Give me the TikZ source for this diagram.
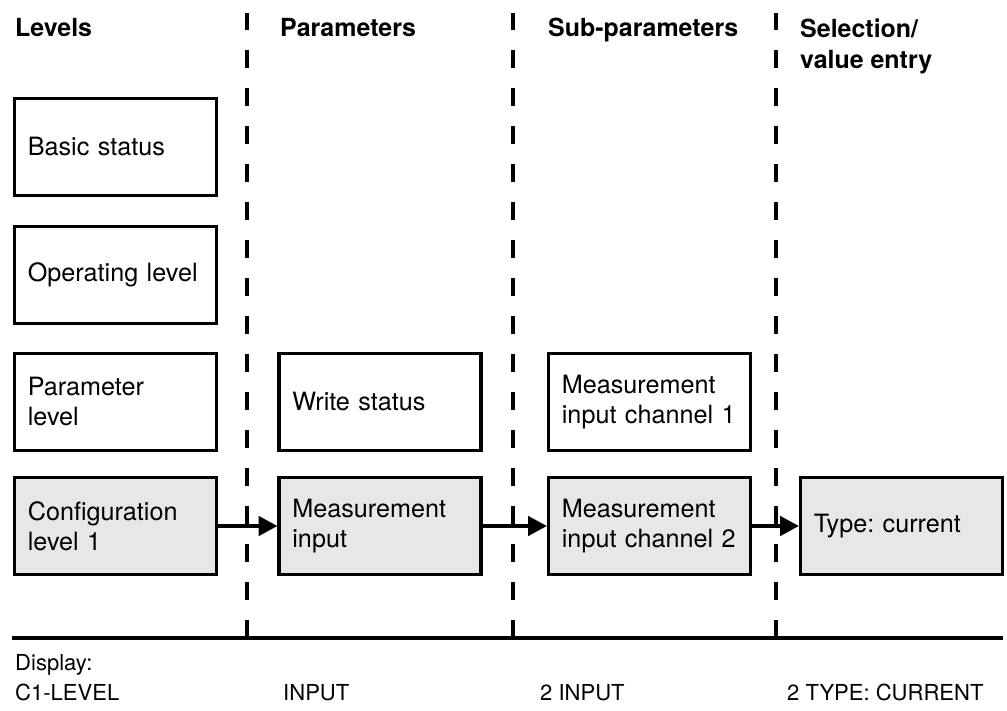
\documentclass[tikz,border=0pt]{standalone}
\usepackage{fontspec}
\setmainfont{TeX Gyre Heros}
\usepackage{tikz}
\usetikzlibrary{arrows.meta}
\definecolor{boxgray}{RGB}{230,231,232}
\frenchspacing
\tikzset{
	levelbox/.style={draw,rectangle,line width=2.8pt,minimum width=6.06cm,minimum height=2.9cm,
		inner xsep=0.4cm,text width=5.26cm,align=left,font=\fontsize{21.5}{25.6}\selectfont},
	activebox/.style={levelbox,fill=boxgray},
	divider/.style={line width=2.8pt,dash pattern=on 0.54cm off 0.6cm},
	stepto/.style={line width=2.8pt,-{Triangle[length=0.56cm,width=0.58cm]}},
	heading/.style={anchor=base west,inner sep=0pt,align=left,font=\bfseries\fontsize{21.3}{27.3}\selectfont},
	display/.style={anchor=base west,inner sep=0pt,align=left,font=\fontsize{18.8}{25.6}\selectfont}
}

\begin{document}
\begin{tikzpicture}[x=0.03cm,y=-0.03cm]
	\useasboundingbox (0,0) rectangle (1007,711);
	\foreach \x in {247,513,776}
		\draw[divider] (\x,638)--(\x,13);		%column dividers
	\draw[line width=2.8pt] (12,638)--(1003,638);
	
	\node[heading] (levels) at (15,37) {Levels};
	\node[heading] (params) at (280,37) {Parameters};
	\node[heading] (subparams) at (548,37) {Sub-parameters};
	\node[heading] (selection) at (800,69) {Selection/\\value entry};	%base = last line
	%
	\node[levelbox] (basic) at (115.5,147) {Basic status};
	\node[levelbox] (oper) at (115.5,275) {Operating level};
	\node[levelbox] (param) at (115.5,402) {Parameter\\level};
	\node[activebox] (config) at (115.5,526) {Configuration\\level 1};
	%
	\node[levelbox] (write) at (380,402) {Write status};
	\node[activebox] (meas) at (380,526) {Measurement\\input};
	%
	\node[levelbox] (chone) at (649.5,402) {Measurement\\input channel 1};
	\node[activebox] (chtwo) at (649.5,526) {Measurement\\input channel 2};
	%
	\node[activebox] (type) at (901.5,526) {Type: current};
	
	\draw[stepto] (config.east)--(meas.west);
	\draw[stepto] (meas.east)--(chtwo.west);
	\draw[stepto] (chtwo.east)--(type.west);
	
	\node[display] (disp) at (15,700) {Display:\\C1-LEVEL};
	\node[display] (dispin) at (283,700) {INPUT};
	\node[display] (dispch) at (540,700) {2 INPUT};
	\node[display] (disptype) at (787,700) {2 TYPE: CURRENT};
\end{tikzpicture}
\end{document}
